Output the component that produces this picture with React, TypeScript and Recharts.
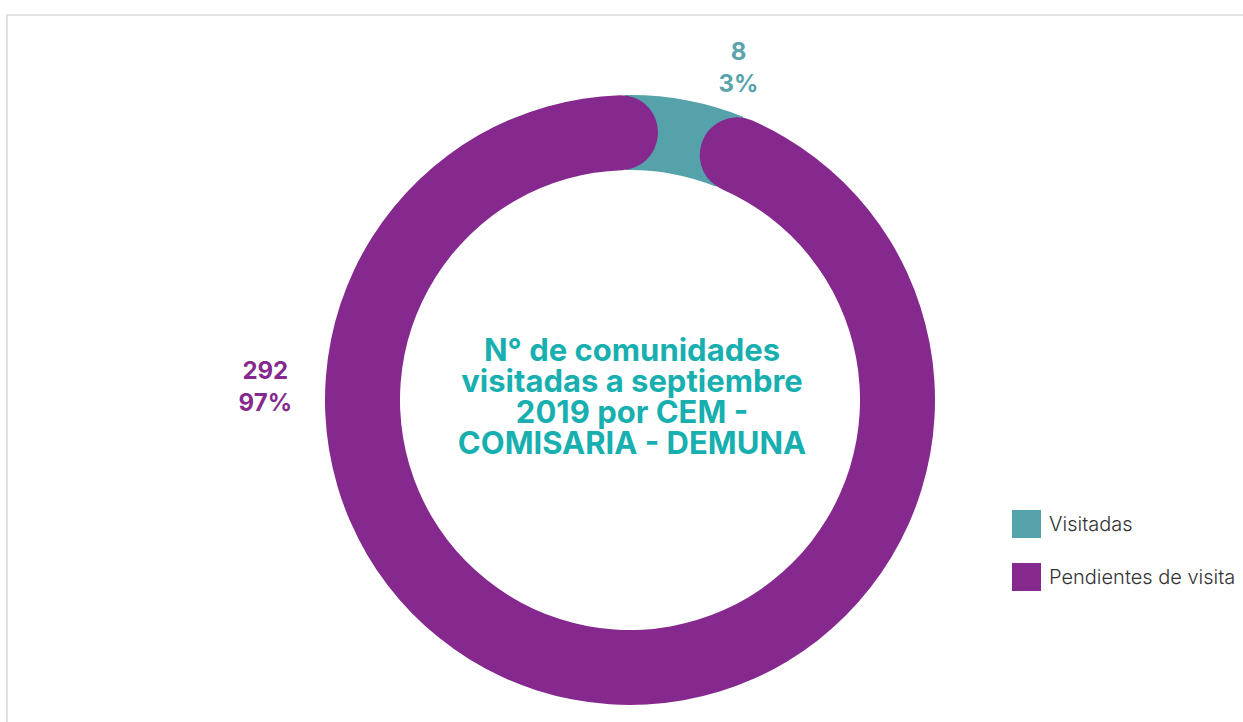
import { PieChart, Pie, Cell, Legend } from 'recharts';

const categories = ['Visitadas', 'Pendientes de visita'];
const values = [8, 292];
const percents = ['3%', '97%'];
const colors = ['#55A2AB', '#86298E'];
const labelColors = ['#58A3AC', '#86298E'];
const centerLines = [
  'N° de comunidades',
  'visitadas a septiembre',
  '2019 por CEM -',
  'COMISARIA - DEMUNA',
];

const data = categories.map((name, i) => ({ name, value: values[i] }));

// where the value labels sit around the ring (degrees, radius offset)
const labelAngles = [72, 177.6];
const labelOffsets = [46, 60];

const RADIAN = Math.PI / 180;

function ValueLabel(props: any) {
  const { cx, cy, outerRadius, index } = props;
  const a = labelAngles[index] * RADIAN;
  const r = outerRadius + labelOffsets[index];
  const x = cx + r * Math.cos(a);
  const y = cy - r * Math.sin(a);
  return (
    <text
      x={x}
      y={y}
      textAnchor="middle"
      fill={labelColors[index]}
      style={{ fontFamily: 'Inter', fontWeight: 700, fontSize: 24 }}
    >
      <tspan x={x} dy={-6}>{values[index]}</tspan>
      <tspan x={x} dy={32}>{percents[index]}</tspan>
    </text>
  );
}

function LegendBox() {
  return (
    <div style={{ fontFamily: 'Inter', fontWeight: 300, fontSize: 20, color: '#333' }}>
      {categories.map((c, i) => (
        <div
          key={c}
          style={{ display: 'flex', alignItems: 'center', height: 28, marginBottom: 25, whiteSpace: 'nowrap' }}
        >
          <span
            style={{ width: 29, height: 28, background: colors[i], display: 'inline-block', marginRight: 8 }}
          />
          {c}
        </div>
      ))}
    </div>
  );
}

export default function App() {
  return (
    <div
      style={{
        position: 'absolute',
        left: 6,
        top: 14,
        width: 1240,
        height: 712,
        borderLeft: '2px solid #e2e2e2',
        borderTop: '2px solid #e2e2e2',
        overflow: 'hidden',
        background: '#fff',
      }}
    >
      <PieChart width={1237} height={706}>
        <Pie
          data={data}
          dataKey="value"
          cx={617}
          cy={379}
          innerRadius={230}
          outerRadius={305}
          startAngle={91}
          endAngle={-269}
          minAngle={14}
          stroke="none"
          isAnimationActive={false}
          legendType="none"
        >
          <Cell fill={colors[0]} />
          <Cell fill="none" />
        </Pie>
        <Pie
          data={data}
          dataKey="value"
          cx={617}
          cy={379}
          innerRadius={230}
          outerRadius={305}
          startAngle={84}
          endAngle={-276}
          cornerRadius={37}
          stroke="none"
          isAnimationActive={false}
          label={ValueLabel}
          labelLine={false}
        >
          <Cell fill="none" />
          <Cell fill={colors[1]} />
        </Pie>
        <Legend
          content={() => <LegendBox />}
          wrapperStyle={{ position: 'absolute', left: 1004, top: 494, width: 260 }}
        />
      </PieChart>
      <div
        style={{
          position: 'absolute',
          left: 0,
          width: 1248,
          top: 318,
          textAlign: 'center',
          fontFamily: 'Inter',
          fontWeight: 700,
          fontSize: 31,
          lineHeight: '31px',
          color: '#17AFB0',
        }}
      >
        {centerLines.map((l) => (
          <div key={l}>{l}</div>
        ))}
      </div>
    </div>
  );
}
